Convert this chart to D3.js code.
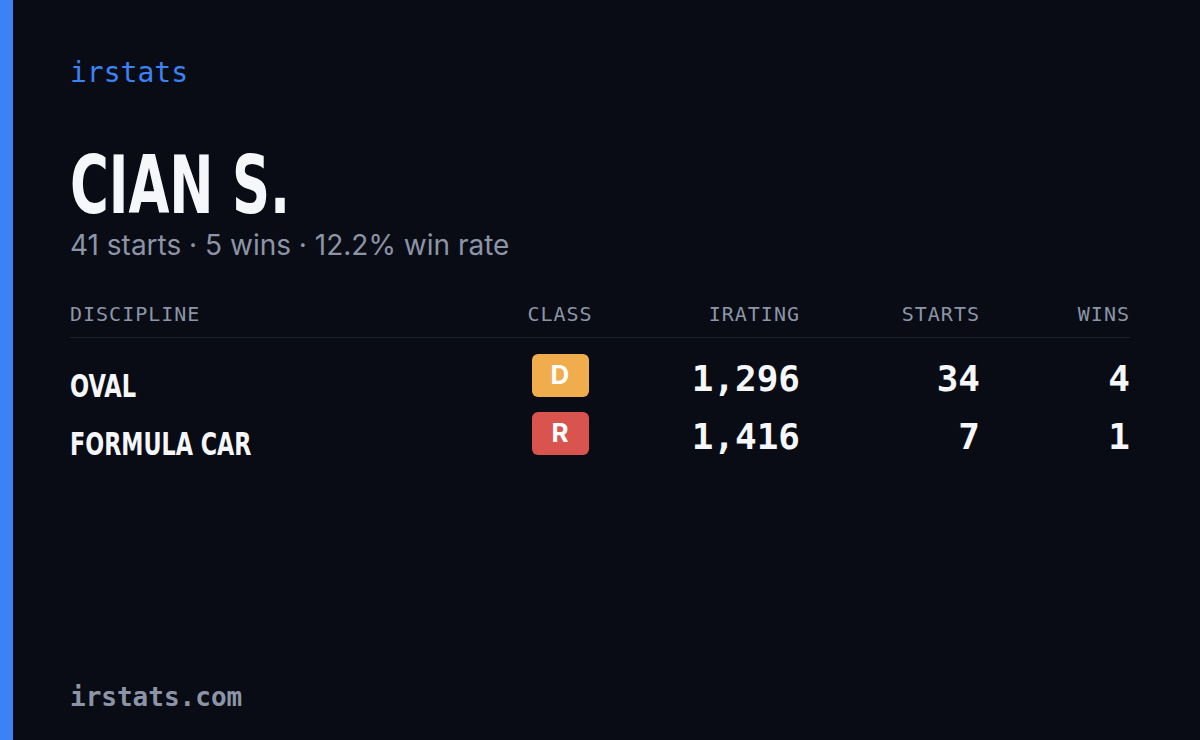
<!DOCTYPE html>
<html><head><meta charset="utf-8">
<script src="https://cdn.jsdelivr.net/npm/d3@7"></script>
<style>body{margin:0;background:#090c14;}</style>
</head><body>
<script>
const brand="irstats";
const driver="CIAN S.";
const summary="41 starts · 5 wins · 12.2% win rate";
const footer="irstats.com";
const columns=["DISCIPLINE","CLASS","IRATING","STARTS","WINS"];
const disciplines=["OVAL","FORMULA CAR"];
const classes=["D","R"];
const classColors=["#f0ad4e","#d9534f"];
const iratings=[1296,1416];
const starts=[34,7];
const wins=[4,1];

const W=1200,H=740;
const svg=d3.select("body").append("svg").attr("width",W).attr("height",H);
svg.append("rect").attr("width",W).attr("height",H).attr("fill","#090c14");
svg.append("rect").attr("width",13).attr("height",H).attr("fill","#3b82f6");
const mono="'DejaVu Sans Mono',monospace";
const cond="'DejaVu Sans Condensed','DejaVu Sans',sans-serif";
svg.append("text").attr("x",70).attr("y",82).text(brand).attr("fill","#3b82f6").attr("font-family",mono).attr("font-size",28);
svg.append("text").attr("x",70).attr("y",213).text(driver).attr("fill","#f5f7fa").attr("font-family",cond).attr("font-weight","bold").attr("font-size",80).attr("textLength",220).attr("lengthAdjust","spacingAndGlyphs");
svg.append("text").attr("x",70).attr("y",255).text(summary).attr("fill","#8b95a7").attr("font-family","Inter,sans-serif").attr("font-size",28);

const colX=d3.scaleOrdinal().domain(columns).range([70,560,800,980,1130]);
const colAnchor=["start","middle","end","end","end"];
columns.forEach((c,i)=>svg.append("text").attr("x",colX(c)).attr("y",321).attr("text-anchor",colAnchor[i]).text(c).attr("fill","#8b95a7").attr("font-family",mono).attr("font-size",20).attr("letter-spacing",1));
svg.append("line").attr("x1",70).attr("x2",1130).attr("y1",337.5).attr("y2",337.5).attr("stroke","#1c2230");

const y=d3.scaleBand().domain(disciplines).range([346,462]);
const fmt=d3.format(",");
disciplines.forEach((d,i)=>{
  const cy=y(d)+y.bandwidth()/2;
  svg.append("text").attr("x",70).attr("y",cy+22).text(d).attr("fill","#f5f7fa").attr("font-family",cond).attr("font-weight","bold").attr("font-size",32).attr("textLength",d.length*16.5).attr("lengthAdjust","spacingAndGlyphs");
  svg.append("rect").attr("x",colX("CLASS")-28).attr("y",cy-21).attr("width",57).attr("height",43).attr("rx",6).attr("fill",classColors[i]);
  svg.append("text").attr("x",colX("CLASS")).attr("y",cy+9).attr("text-anchor","middle").text(classes[i]).attr("fill","#fff").attr("font-family","Inter,sans-serif").attr("font-weight","bold").attr("font-size",26);
  [[ "IRATING",fmt(iratings[i])],["STARTS",starts[i]],["WINS",wins[i]]].forEach(([c,v])=>
    svg.append("text").attr("x",colX(c)).attr("y",cy+16).attr("text-anchor","end").text(v).attr("fill","#f5f7fa").attr("font-family",mono).attr("font-weight",600).attr("font-size",36));
});
svg.append("text").attr("x",70).attr("y",706).text(footer).attr("fill","#8b95a7").attr("font-family",mono).attr("font-size",26).attr("font-weight",600);
</script></body></html>
